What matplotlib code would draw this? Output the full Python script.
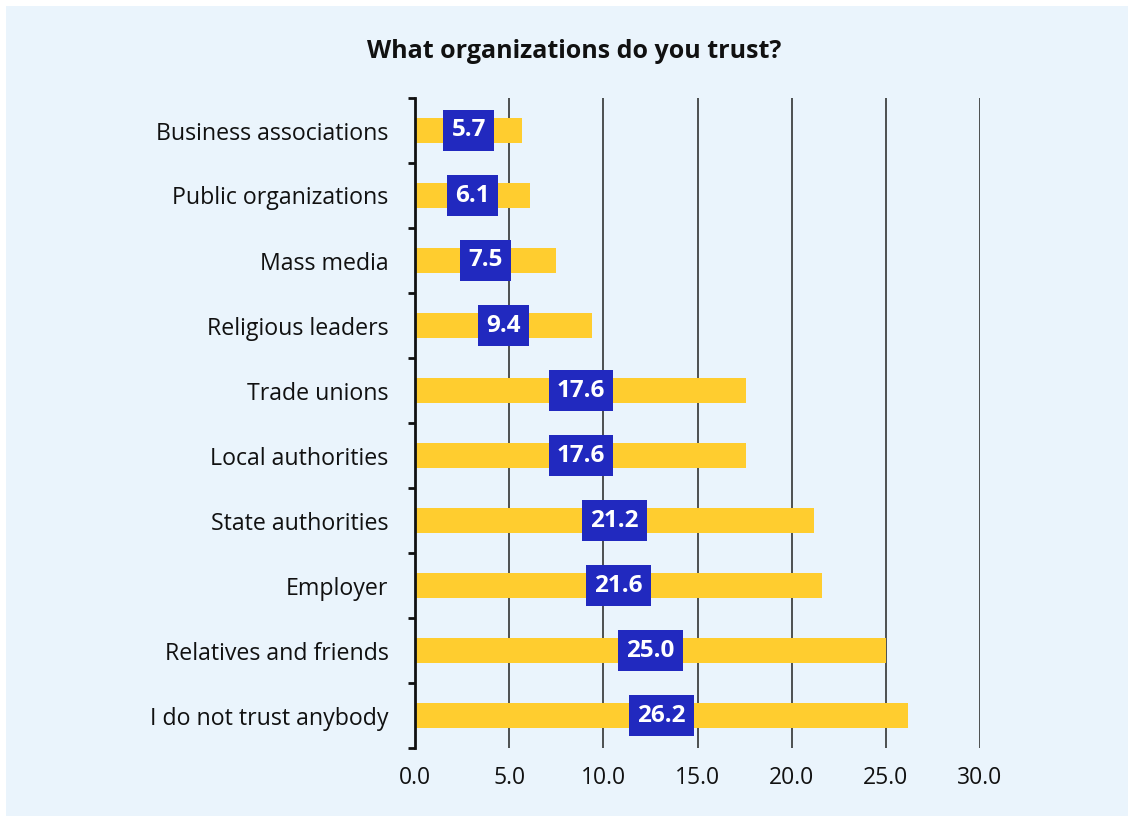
import matplotlib
matplotlib.use("Agg")
import matplotlib.pyplot as plt
from matplotlib.patches import Rectangle
from matplotlib.ticker import FixedLocator

categories = [
    "Business associations",
    "Public organizations",
    "Mass media",
    "Religious leaders",
    "Trade unions",
    "Local authorities",
    "State authorities",
    "Employer",
    "Relatives and friends",
    "I do not trust anybody",
]
values = [5.7, 6.1, 7.5, 9.4, 17.6, 17.6, 21.2, 21.6, 25.0, 26.2]
x_ticks = [0, 5, 10, 15, 20, 25, 30]
title = "What organizations do you trust?"

BG = "#EAF4FC"
BAR = "#FFCD2F"
BOX = "#2129BF"
INK = "#111111"

plt.rcParams["font.family"] = ["Open Sans", "DejaVu Sans"]

fig = plt.figure(figsize=(11.34, 8.21), dpi=100)
fig.patch.set_facecolor("white")
fig.patches.append(Rectangle((6 / 1134, 5 / 821), 1 - 12 / 1134, 1 - 11 / 821,
                             transform=fig.transFigure, facecolor=BG,
                             edgecolor="none", zorder=-10))

ax = fig.add_axes([415 / 1134, 1 - 748 / 821, 565 / 1134, 650 / 821])
ax.set_facecolor("none")

n = len(categories)
ypos = list(range(n))
ax.barh(ypos, values, height=0.38, color=BAR, zorder=2)

for y, v in zip(ypos, values):
    ax.text(v / 2, y, f"{v:.1f}", ha="center", va="center", color="white",
            fontsize=17.5, fontweight="bold", zorder=4,
            bbox=dict(boxstyle="square,pad=0.33", facecolor=BOX,
                      edgecolor="none"))

ax.set_xlim(0, 30)
ax.set_ylim(n - 0.5, -0.5)
ax.set_xticks(x_ticks)
ax.set_xticklabels([f"{t:.1f}" for t in x_ticks])
ax.set_yticks(ypos)
ax.set_yticklabels(categories)
ax.yaxis.set_minor_locator(FixedLocator([i - 0.5 for i in range(n + 1)]))

ax.tick_params(axis="x", length=0, pad=13, labelsize=16.5, colors=INK)
ax.tick_params(axis="y", which="major", length=0, pad=19, labelsize=16.7,
               colors=INK)
ax.tick_params(axis="y", which="minor", length=5, width=2, color=INK)

ax.grid(axis="x", color="#222222", linewidth=1.1, zorder=1)
ax.set_axisbelow(True)

for side in ("top", "right", "bottom"):
    ax.spines[side].set_visible(False)
ax.spines["left"].set_linewidth(2)
ax.spines["left"].set_color(INK)

fig.text(574 / 1134, 1 - 51 / 821, title, ha="center", va="center",
         fontsize=18, fontweight="bold", color=INK)

fig.savefig("out.png", dpi=100, facecolor=fig.get_facecolor())
